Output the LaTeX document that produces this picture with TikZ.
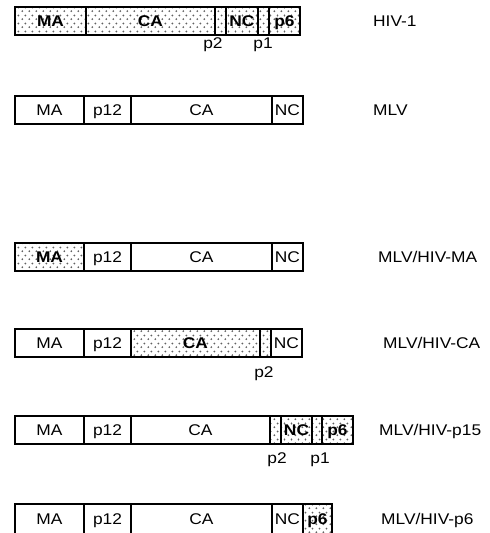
\documentclass[tikz,border=0pt]{standalone}
\usepackage{fontspec}
\setmainfont[FakeStretch=1.12]{Liberation Sans}
\usetikzlibrary{patterns.meta}
\tikzdeclarepattern{
  name=specks,
  type=uncolored,
  bottom left={(0pt,0pt)},
  top right={(7pt,8pt)},
  tile size={(7pt,8pt)},
  code={
    \tikzset{x=1pt,y=1pt}
    \fill (1.5,2) circle (1.1);
    \fill (5,6) circle (1.1);
  }
}
\tikzset{
  seg/.style={draw, line width=1.2pt, inner sep=0pt, outer sep=0pt, anchor=north west,
    font=\fontsize{15.5}{16}\selectfont, text height=11pt, text depth=0pt},
  hiv/.style={pattern={specks}, pattern color=black!62, font=\fontsize{15.5}{16}\selectfont\bfseries},
  lab/.style={anchor=west, inner sep=0pt, font=\fontsize{15.5}{16}\selectfont, text height=11pt, text depth=0pt},
  sub/.style={inner sep=0pt, font=\fontsize{15.5}{16}\selectfont, text height=11pt, text depth=0pt}
}
\newcommand{\segbox}[7][]{\node[seg,#1,minimum width={#4-#3},minimum height={#6-#5}] (#2) at (#3,#5) {#7};}
\begin{document}
\begin{tikzpicture}[x=1pt,y=-1pt]
\useasboundingbox (0,0) rectangle (490,533);
% HIV-1
\segbox[hiv]{hma}{15}{86}{7}{35}{MA}
\segbox[hiv]{hca}{86}{215}{7}{35}{CA}
\segbox[hiv]{hptwo}{215}{226}{7}{35}{}
\segbox[hiv]{hnc}{226}{258}{7}{35}{NC}
\segbox[hiv]{hpone}{258}{269}{7}{35}{}
\segbox[hiv]{hpsix}{269}{300}{7}{35}{p6}
\node[sub] (hptwolab) at (213,43) {p2};
\node[sub] (hponelab) at (263,43) {p1};
\node[lab] (lhiv) at (373,21) {HIV-1};
% MLV
\segbox{mma}{15}{84}{96}{124}{MA}
\segbox{mptw}{84}{131}{96}{124}{p12}
\segbox{mca}{131}{272}{96}{124}{CA}
\segbox{mnc}{272}{303}{96}{124}{NC}
\node[lab] (lmlv) at (373,110) {MLV};
% MLV/HIV-MA
\segbox[hiv]{ama}{15}{84}{243}{271}{MA}
\segbox{aptw}{84}{131}{243}{271}{p12}
\segbox{aca}{131}{272}{243}{271}{CA}
\segbox{anc}{272}{303}{243}{271}{NC}
\node[lab] (lma) at (378,257) {MLV/HIV-MA};
% MLV/HIV-CA
\segbox{cma}{15}{84}{329}{357}{MA}
\segbox{cptw}{84}{131}{329}{357}{p12}
\segbox[hiv]{cca}{131}{260}{329}{357}{CA}
\segbox[hiv]{cptwo}{260}{271}{329}{357}{}
\segbox{cnc}{271}{302}{329}{357}{NC}
\node[sub] (cptwolab) at (264,372) {p2};
\node[lab] (lca) at (383,343) {MLV/HIV-CA};
% MLV/HIV-p15
\segbox{pma}{15}{84}{416}{444}{MA}
\segbox{pptw}{84}{131}{416}{444}{p12}
\segbox{pca}{131}{270}{416}{444}{CA}
\segbox[hiv]{pptwo}{270}{281}{416}{444}{}
\segbox[hiv]{pnc}{281}{312}{416}{444}{NC}
\segbox[hiv]{ppone}{312}{322}{416}{444}{}
\segbox[hiv]{ppsix}{322}{353}{416}{444}{p6}
\node[sub] (pptwolab) at (277,458) {p2};
\node[sub] (pponelab) at (320,458) {p1};
\node[lab] (lpf) at (379,430) {MLV/HIV-p15};
% MLV/HIV-p6
\segbox{sma}{15}{84}{504}{534}{MA}
\segbox{sptw}{84}{131}{504}{534}{p12}
\segbox{sca}{131}{272}{504}{534}{CA}
\segbox{snc}{272}{303}{504}{534}{NC}
\segbox[hiv]{spsix}{303}{332}{504}{534}{p6}
\node[lab] (lps) at (381,519) {MLV/HIV-p6};
\end{tikzpicture}
\end{document}
